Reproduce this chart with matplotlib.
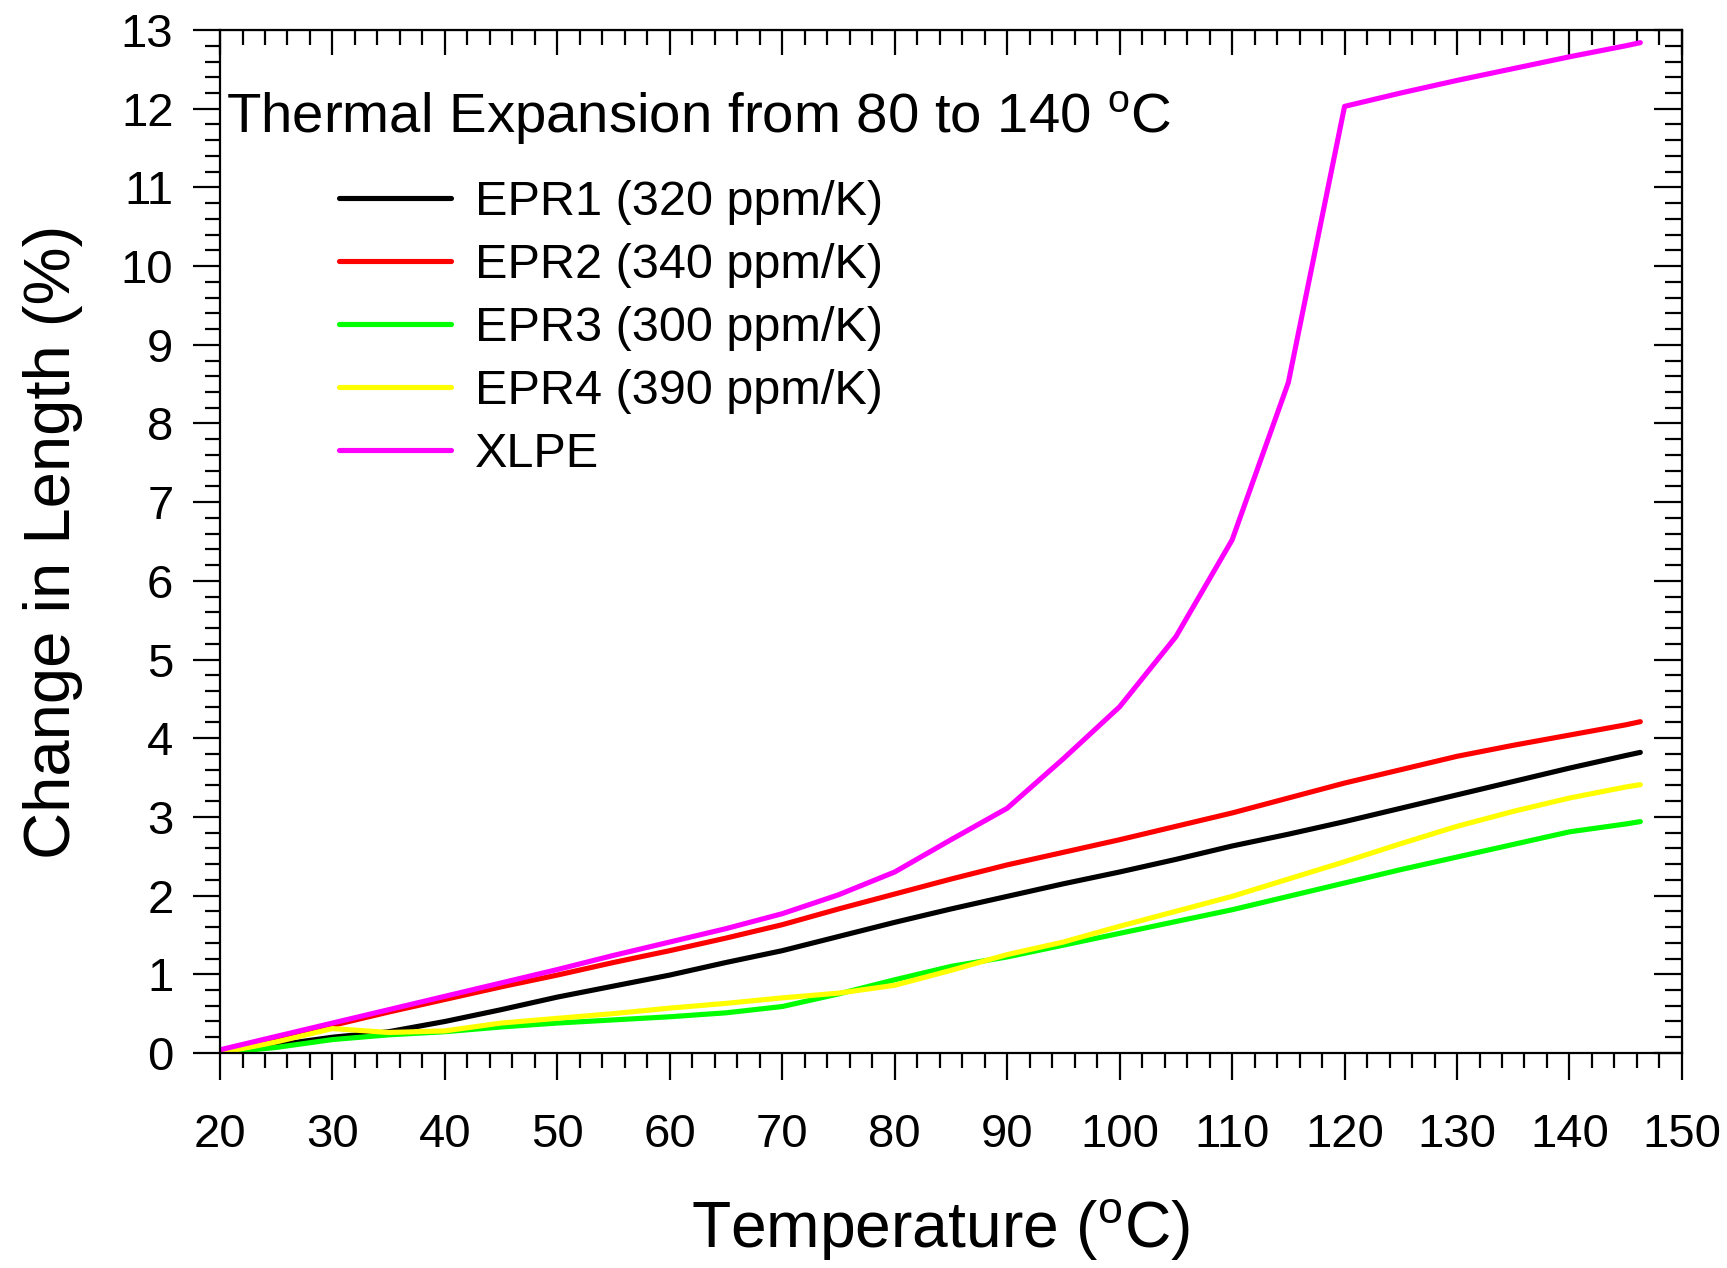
import matplotlib
matplotlib.use("Agg")
from matplotlib import pyplot as plt
from matplotlib.ticker import MultipleLocator

plt.rcParams['font.family'] = ['Liberation Sans', 'DejaVu Sans']
plt.rcParams['mathtext.fontset'] = 'custom'
plt.rcParams['mathtext.rm'] = 'Liberation Sans'
plt.rcParams['mathtext.it'] = 'Liberation Sans'

# temperature (C) and change in length (%)
temps = [20, 25, 30, 35, 40, 45, 50, 55, 60, 65, 70, 75, 80, 85, 90, 95,
         100, 105, 110, 115, 120, 125, 130, 135, 140, 145, 146.3]
epr1 = [0, 0.10, 0.20, 0.27, 0.40, 0.55, 0.71, 0.85, 0.99, 1.15, 1.30, 1.48,
        1.66, 1.83, 1.99, 2.15, 2.30, 2.46, 2.63, 2.78, 2.94, 3.11, 3.28,
        3.45, 3.62, 3.78, 3.82]
epr2 = [0, 0.18, 0.35, 0.52, 0.68, 0.84, 0.99, 1.15, 1.30, 1.46, 1.63, 1.83,
        2.02, 2.21, 2.39, 2.55, 2.71, 2.88, 3.05, 3.24, 3.43, 3.60, 3.77,
        3.91, 4.04, 4.17, 4.21]
epr3 = [0, 0.07, 0.17, 0.23, 0.27, 0.33, 0.38, 0.42, 0.46, 0.51, 0.59, 0.75,
        0.93, 1.10, 1.22, 1.37, 1.52, 1.67, 1.82, 1.99, 2.16, 2.33, 2.49,
        2.65, 2.81, 2.91, 2.94]
epr4 = [0, 0.14, 0.31, 0.26, 0.28, 0.38, 0.44, 0.50, 0.57, 0.63, 0.70, 0.76,
        0.86, 1.05, 1.25, 1.41, 1.61, 1.80, 1.99, 2.21, 2.43, 2.66, 2.88,
        3.07, 3.24, 3.38, 3.41]
xlpe = [0.04, 0.21, 0.38, 0.55, 0.72, 0.89, 1.06, 1.24, 1.41, 1.58, 1.77, 2.01,
        2.30, 2.71, 3.11, 3.74, 4.40, 5.29, 6.52, 8.52, 12.03, 12.20, 12.36,
        12.51, 12.66, 12.80, 12.84]

series = [epr1, epr2, epr3, epr4, xlpe]
names = ["EPR1 (320 ppm/K)", "EPR2 (340 ppm/K)", "EPR3 (300 ppm/K)",
         "EPR4 (390 ppm/K)", "XLPE"]
colors = ["#000000", "#ff0000", "#00ff00", "#ffff00", "#ff00ff"]

fig = plt.figure(figsize=(17.27, 12.68), dpi=100)
ax = fig.add_axes([0.1274, 0.1696, 0.9739 - 0.1274, 0.9763 - 0.1696])

for ys, name, c in zip(series, names, colors):
    ax.plot(temps, ys, color=c, lw=3.7, label=name, solid_capstyle='round')

ax.set_xlim(20, 150)
ax.set_ylim(0, 13)
ax.xaxis.set_major_locator(MultipleLocator(10))
ax.xaxis.set_minor_locator(MultipleLocator(2))
ax.yaxis.set_major_locator(MultipleLocator(1))
ax.yaxis.set_minor_locator(MultipleLocator(0.2))
for s in ax.spines.values():
    s.set_linewidth(1.6)

ax.tick_params(which='both', direction='out', width=1.6, labelsize=34,
               top=False, right=False)
ax.tick_params(which='major', length=19.5)
ax.tick_params(which='minor', length=11)
ax.tick_params(axis='x', pad=24)
ax.tick_params(axis='y', pad=14)

top = ax.secondary_xaxis('top')
top.xaxis.set_major_locator(MultipleLocator(10))
top.xaxis.set_minor_locator(MultipleLocator(2))
top.tick_params(which='both', direction='in', width=1.6, labeltop=False)
top.tick_params(which='major', length=18)
top.tick_params(which='minor', length=11)
right = ax.secondary_yaxis('right')
right.yaxis.set_major_locator(MultipleLocator(1))
right.yaxis.set_minor_locator(MultipleLocator(0.2))
right.tick_params(which='both', direction='in', width=1.6, labelright=False)
right.tick_params(which='major', length=20)
right.tick_params(which='minor', length=12)

ax.set_xlabel(r"Temperature ($^{\mathrm{o}}$C)", fontsize=46.2, labelpad=29)
ax.xaxis.label.set_x(0.493)
ax.set_ylabel("Change in Length (%)", fontsize=47, labelpad=27)

ax.text(0.004, 0.8993, r"Thermal Expansion from 80 to 140 $^{\mathrm{o}}$C",
        transform=ax.transAxes, fontsize=40.6, va='baseline', ha='left')

ax.legend(loc='upper left', bbox_to_anchor=(0.0815, 0.853), frameon=False,
          fontsize=35, handlelength=2.3, handletextpad=0.5,
          labelspacing=0.37, borderpad=0, borderaxespad=0)

fig.savefig("out.png", dpi=100)
